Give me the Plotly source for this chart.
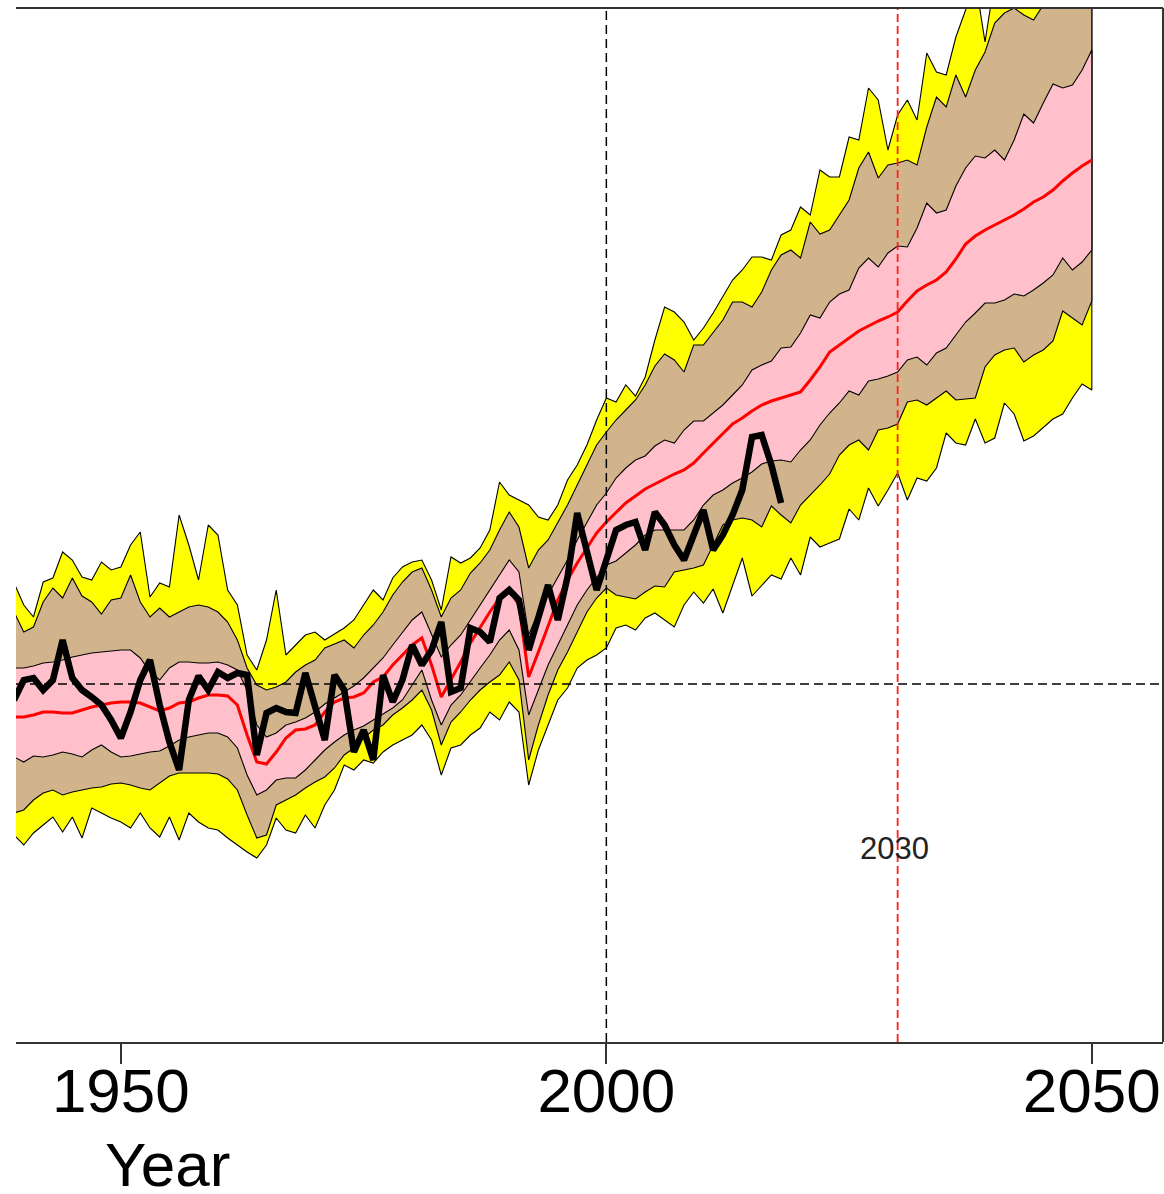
import plotly.graph_objects as go

years = list(range(1939, 2051))
obs_years = list(range(1939, 2019))

yellow_upper = [
    1.01, 0.79, 0.67, 1.02, 1.06, 1.32, 1.24, 1.07, 1.04, 1.22,
    1.14, 1.17, 1.39, 1.52, 0.87, 1.01, 0.97, 1.69, 1.39, 1.04,
    1.59, 1.49, 0.94, 0.79, 0.29, 0.14, 0.44, 0.94, 0.29, 0.39,
    0.49, 0.52, 0.44, 0.50, 0.56, 0.64, 0.79, 0.94, 0.84, 1.06,
    1.17, 1.22, 1.24, 1.04, 0.74, 1.27, 1.21, 1.26, 1.36, 1.54,
    2.02, 1.89, 1.84, 1.79, 1.67, 1.64, 1.79, 2.04, 2.19, 2.39,
    2.64, 2.86, 2.82, 2.99, 2.88, 3.07, 3.44, 3.77, 3.72, 3.62,
    3.44, 3.56, 3.71, 3.87, 4.04, 4.14, 4.27, 4.27, 4.24, 4.49,
    4.54, 4.77, 4.69, 5.14, 5.07, 5.07, 5.47, 5.44, 5.96, 5.84,
    5.34, 5.69, 5.84, 5.64, 6.31, 6.12, 6.09, 6.47, 6.74, 7.04,
    6.42, 7.04, 7.24, 7.24, 7.14, 7.24, 7.34, 7.44, 7.54, 7.64,
    7.74, 7.84,
]

tan_upper = [
    0.72, 0.52, 0.57, 0.82, 0.96, 0.86, 1.06, 0.88, 0.82, 0.70,
    0.84, 0.86, 1.09, 0.82, 0.67, 0.76, 0.67, 0.72, 0.77, 0.79,
    0.77, 0.72, 0.62, 0.44, 0.16, -0.01, -0.06, -0.03, 0.02, 0.12,
    0.19, 0.24, 0.36, 0.40, 0.44, 0.36, 0.49, 0.59, 0.72, 0.89,
    1.02, 1.12, 1.16, 0.94, 0.67, 0.86, 0.94, 1.11, 1.21, 1.34,
    1.54, 1.72, 1.57, 1.16, 1.34, 1.44, 1.61, 1.79, 1.99, 2.19,
    2.39, 2.52, 2.64, 2.74, 2.84, 2.99, 3.18, 3.30, 3.24, 3.12,
    3.39, 3.39, 3.51, 3.64, 3.82, 3.82, 3.77, 3.92, 4.14, 4.29,
    4.34, 4.26, 4.62, 4.50, 4.54, 4.69, 4.84, 5.16, 5.32, 5.06,
    5.19, 5.21, 5.24, 5.19, 5.57, 5.87, 5.77, 6.09, 5.87, 6.14,
    6.32, 6.61, 6.71, 6.76, 6.69, 6.64, 6.79, 6.89, 6.99, 7.09,
    7.19, 7.29,
]

pink_upper = [
    0.16, 0.16, 0.18, 0.21, 0.22, 0.24, 0.27, 0.29, 0.31, 0.32,
    0.33, 0.34, 0.34, 0.26, 0.12, 0.04, 0.16, 0.22, 0.22, 0.21,
    0.21, 0.22, 0.19, 0.14, -0.06, -0.41, -0.53, -0.49, -0.41, -0.38,
    -0.34, -0.28, -0.20, -0.14, -0.08, -0.02, 0.06, 0.16, 0.26, 0.39,
    0.52, 0.64, 0.72, 0.49, 0.27, 0.39, 0.49, 0.64, 0.79, 0.94,
    1.09, 1.24, 1.12, 0.49, 0.72, 0.89, 1.06, 1.24, 1.44, 1.62,
    1.79, 1.91, 2.06, 2.16, 2.24, 2.28, 2.38, 2.44, 2.41, 2.54,
    2.63, 2.63, 2.71, 2.79, 2.89, 2.99, 3.14, 3.19, 3.23, 3.36,
    3.37, 3.51, 3.69, 3.66, 3.82, 3.90, 3.94, 4.16, 4.26, 4.17,
    4.31, 4.38, 4.37, 4.56, 4.81, 4.71, 4.74, 4.98, 5.16, 5.28,
    5.26, 5.34, 5.24, 5.44, 5.70, 5.61, 5.81, 6.00, 5.96, 5.99,
    6.14, 6.34,
]

median = [
    -0.33, -0.33, -0.31, -0.28, -0.28, -0.29, -0.29, -0.26, -0.23, -0.21,
    -0.19, -0.18, -0.18, -0.19, -0.23, -0.27, -0.24, -0.19, -0.18, -0.14,
    -0.11, -0.11, -0.12, -0.21, -0.51, -0.78, -0.80, -0.68, -0.54, -0.46,
    -0.45, -0.41, -0.28, -0.18, -0.14, -0.13, -0.09, 0.02, 0.07, 0.19,
    0.29, 0.39, 0.46, 0.19, -0.13, 0.04, 0.22, 0.41, 0.57, 0.72,
    0.86, 0.94, 0.79, 0.07, 0.32, 0.59, 0.84, 1.04, 1.21, 1.36,
    1.51, 1.62, 1.72, 1.81, 1.88, 1.95, 2.00, 2.05, 2.10, 2.14,
    2.21, 2.31, 2.41, 2.51, 2.60, 2.66, 2.73, 2.79, 2.83, 2.86,
    2.89, 2.92, 3.04, 3.17, 3.32, 3.39, 3.46, 3.53, 3.58, 3.63,
    3.67, 3.72, 3.83, 3.93, 3.99, 4.04, 4.12, 4.25, 4.40, 4.48,
    4.54, 4.59, 4.64, 4.69, 4.75, 4.82, 4.87, 4.94, 5.03, 5.11,
    5.18, 5.24,
]

pink_lower = [
    -0.73, -0.78, -0.72, -0.73, -0.71, -0.68, -0.70, -0.73, -0.66, -0.61,
    -0.68, -0.73, -0.72, -0.70, -0.68, -0.67, -0.62, -0.56, -0.53, -0.51,
    -0.49, -0.49, -0.53, -0.64, -0.91, -1.11, -1.06, -0.96, -0.94, -0.94,
    -0.86, -0.76, -0.66, -0.58, -0.51, -0.46, -0.42, -0.36, -0.30, -0.24,
    -0.16, -0.01, 0.14, -0.16, -0.41, -0.21, -0.11, 0.02, 0.16, 0.29,
    0.44, 0.54, 0.34, -0.31, -0.06, 0.19, 0.39, 0.59, 0.79, 0.94,
    1.06, 1.19, 1.23, 1.31, 1.39, 1.49, 1.54, 1.54, 1.54, 1.54,
    1.64, 1.79, 1.89, 1.94, 2.01, 2.06, 2.12, 2.20, 2.23, 2.24,
    2.22, 2.34, 2.44, 2.59, 2.71, 2.81, 2.93, 2.89, 3.03, 3.05,
    3.08, 3.12, 3.24, 3.27, 3.19, 3.31, 3.36, 3.49, 3.62, 3.71,
    3.81, 3.81, 3.84, 3.90, 3.88, 3.94, 4.01, 4.09, 4.26, 4.14,
    4.22, 4.34,
]

tan_lower = [
    -1.29, -1.26, -1.16, -1.09, -1.06, -1.11, -1.08, -1.06, -1.04, -1.03,
    -1.00, -0.99, -1.01, -1.04, -1.06, -0.99, -0.92, -0.89, -0.89, -0.89,
    -0.89, -0.90, -0.95, -1.06, -1.31, -1.54, -1.51, -1.21, -1.16, -1.11,
    -1.04, -0.98, -0.93, -0.84, -0.71, -0.64, -0.54, -0.46, -0.41, -0.31,
    -0.24, -0.16, -0.06, -0.26, -0.61, -0.38, -0.28, -0.16, -0.06, 0.02,
    0.09, 0.22, 0.04, -0.76, -0.41, -0.11, 0.14, 0.32, 0.52, 0.72,
    0.86, 0.96, 0.89, 0.87, 0.85, 0.92, 0.98, 0.97, 1.12, 1.14,
    1.16, 1.19, 1.39, 1.59, 1.64, 1.66, 1.64, 1.57, 1.78, 1.69,
    1.61, 1.79, 1.89, 1.99, 2.10, 2.29, 2.39, 2.44, 2.34, 2.54,
    2.56, 2.60, 2.82, 2.84, 2.79, 2.86, 2.93, 2.84, 2.85, 2.86,
    3.17, 3.29, 3.34, 3.36, 3.22, 3.29, 3.34, 3.43, 3.73, 3.66,
    3.59, 3.83,
]

yellow_lower = [
    -1.51, -1.61, -1.49, -1.41, -1.33, -1.48, -1.33, -1.54, -1.24, -1.29,
    -1.34, -1.38, -1.44, -1.29, -1.44, -1.53, -1.33, -1.56, -1.29, -1.38,
    -1.44, -1.46, -1.54, -1.61, -1.68, -1.74, -1.61, -1.34, -1.46, -1.49,
    -1.31, -1.44, -1.21, -1.06, -0.81, -0.86, -0.76, -0.79, -0.68, -0.61,
    -0.56, -0.51, -0.41, -0.56, -0.91, -0.64, -0.61, -0.51, -0.44, -0.28,
    -0.36, -0.18, -0.28, -1.01, -0.66, -0.41, -0.16, -0.04, 0.16, 0.24,
    0.29, 0.36, 0.56, 0.59, 0.54, 0.66, 0.71, 0.64, 0.57, 0.79,
    0.92, 0.81, 0.95, 0.71, 0.99, 1.26, 0.88, 0.99, 1.09, 1.05,
    1.26, 1.09, 1.47, 1.37, 1.41, 1.45, 1.75, 1.64, 1.96, 1.78,
    1.94, 2.11, 1.84, 2.06, 2.03, 2.16, 2.51, 2.41, 2.39, 2.65,
    2.41, 2.46, 2.81, 2.70, 2.43, 2.48, 2.56, 2.65, 2.70, 2.86,
    3.00, 2.94,
]

observed = [
    -0.16, 0.04, 0.06, -0.06, 0.04, 0.44, 0.06, -0.06, -0.13, -0.21,
    -0.36, -0.54, -0.28, 0.04, 0.24, -0.21, -0.58, -0.86, -0.16, 0.08,
    -0.06, 0.12, 0.06, 0.11, 0.09, -0.71, -0.29, -0.24, -0.28, -0.29,
    0.11, -0.21, -0.56, 0.09, -0.06, -0.68, -0.46, -0.76, 0.09, -0.18,
    0.04, 0.39, 0.19, 0.34, 0.62, -0.08, -0.04, 0.56, 0.52, 0.42,
    0.86, 0.94, 0.84, 0.34, 0.69, 0.99, 0.64, 1.07, 1.71, 1.31,
    0.94, 1.24, 1.54, 1.59, 1.62, 1.34, 1.72, 1.59, 1.39, 1.24,
    1.49, 1.74, 1.34, 1.49, 1.69, 1.94, 2.47, 2.49, 2.19, 1.81,
]

tick_vals = [1950, 2000, 2050]
tick_text = ["1950", "2000", "2050"]
ref_year = 2000
target_year = 2030
target_label = "2030"
ref_level = 0.0
x_range = [1939.2, 2057.33]
y_range = [-3.58, 6.76]

FONT = "Liberation Sans, Arial, sans-serif"

fig = go.Figure()


def band(upper, lower, color):
    fig.add_trace(go.Scatter(
        x=years + years[::-1],
        y=upper + lower[::-1],
        mode="lines",
        fill="toself",
        fillcolor=color,
        line=dict(color="black", width=1.1),
        hoverinfo="skip",
        showlegend=False,
    ))


band(yellow_upper, yellow_lower, "#FFFF00")
band(tan_upper, tan_lower, "#D2B48C")
band(pink_upper, pink_lower, "#FFC0CB")

fig.add_trace(go.Scatter(
    x=years, y=median, mode="lines",
    line=dict(color="#FF0000", width=3),
    showlegend=False,
))
fig.add_trace(go.Scatter(
    x=obs_years, y=observed, mode="lines",
    line=dict(color="black", width=6.5),
    showlegend=False,
))

# reference lines
fig.add_shape(type="line", xref="x", yref="paper", x0=ref_year, x1=ref_year,
              y0=0, y1=1, line=dict(color="black", width=1.5, dash="9px,5px"),
              layer="above")
fig.add_shape(type="line", xref="x", yref="paper", x0=target_year, x1=target_year,
              y0=0, y1=1, line=dict(color="#FF2020", width=1.8, dash="8px,4px"),
              layer="above")
fig.add_shape(type="line", xref="paper", yref="y", x0=0, x1=1,
              y0=ref_level, y1=ref_level,
              line=dict(color="black", width=1.5, dash="9px,5px"),
              layer="above")

# plot box (top and right)
fig.add_shape(type="line", xref="paper", yref="paper", x0=0, x1=1, y0=1, y1=1,
              line=dict(color="#333333", width=2), layer="above")
fig.add_shape(type="line", xref="paper", yref="paper", x0=1, x1=1, y0=0, y1=1,
              line=dict(color="#333333", width=2), layer="above")

fig.add_annotation(x=target_year, y=-1.64, xref="x", yref="y", text=target_label,
                   showarrow=False, xshift=-3,
                   font=dict(family=FONT, size=31, color="#222222"))
fig.add_annotation(x=0.1325, y=-0.118, xref="paper", yref="paper", text="Year",
                   showarrow=False, xanchor="center", yanchor="middle",
                   font=dict(family=FONT, size=62, color="black"))

fig.update_xaxes(range=x_range, tickvals=tick_vals, ticktext=tick_text,
                 showgrid=False, zeroline=False, showline=True,
                 linecolor="#333333", linewidth=2, ticks="outside",
                 ticklen=20, tickwidth=1.5, tickcolor="#333333",
                 ticklabelstandoff=-26,
                 tickfont=dict(family=FONT, size=62, color="black"))
fig.update_yaxes(range=y_range, visible=False, showgrid=False, zeroline=False)

fig.update_layout(
    width=1164, height=1194,
    margin=dict(l=16, r=1, t=8, b=152, autoexpand=False),
    plot_bgcolor="white", paper_bgcolor="white",
    showlegend=False,
)

fig.write_html(
    "out.html",
    config={"displayModeBar": False},
    post_script="document.body.style.margin='0';document.body.style.padding='0';",
)
